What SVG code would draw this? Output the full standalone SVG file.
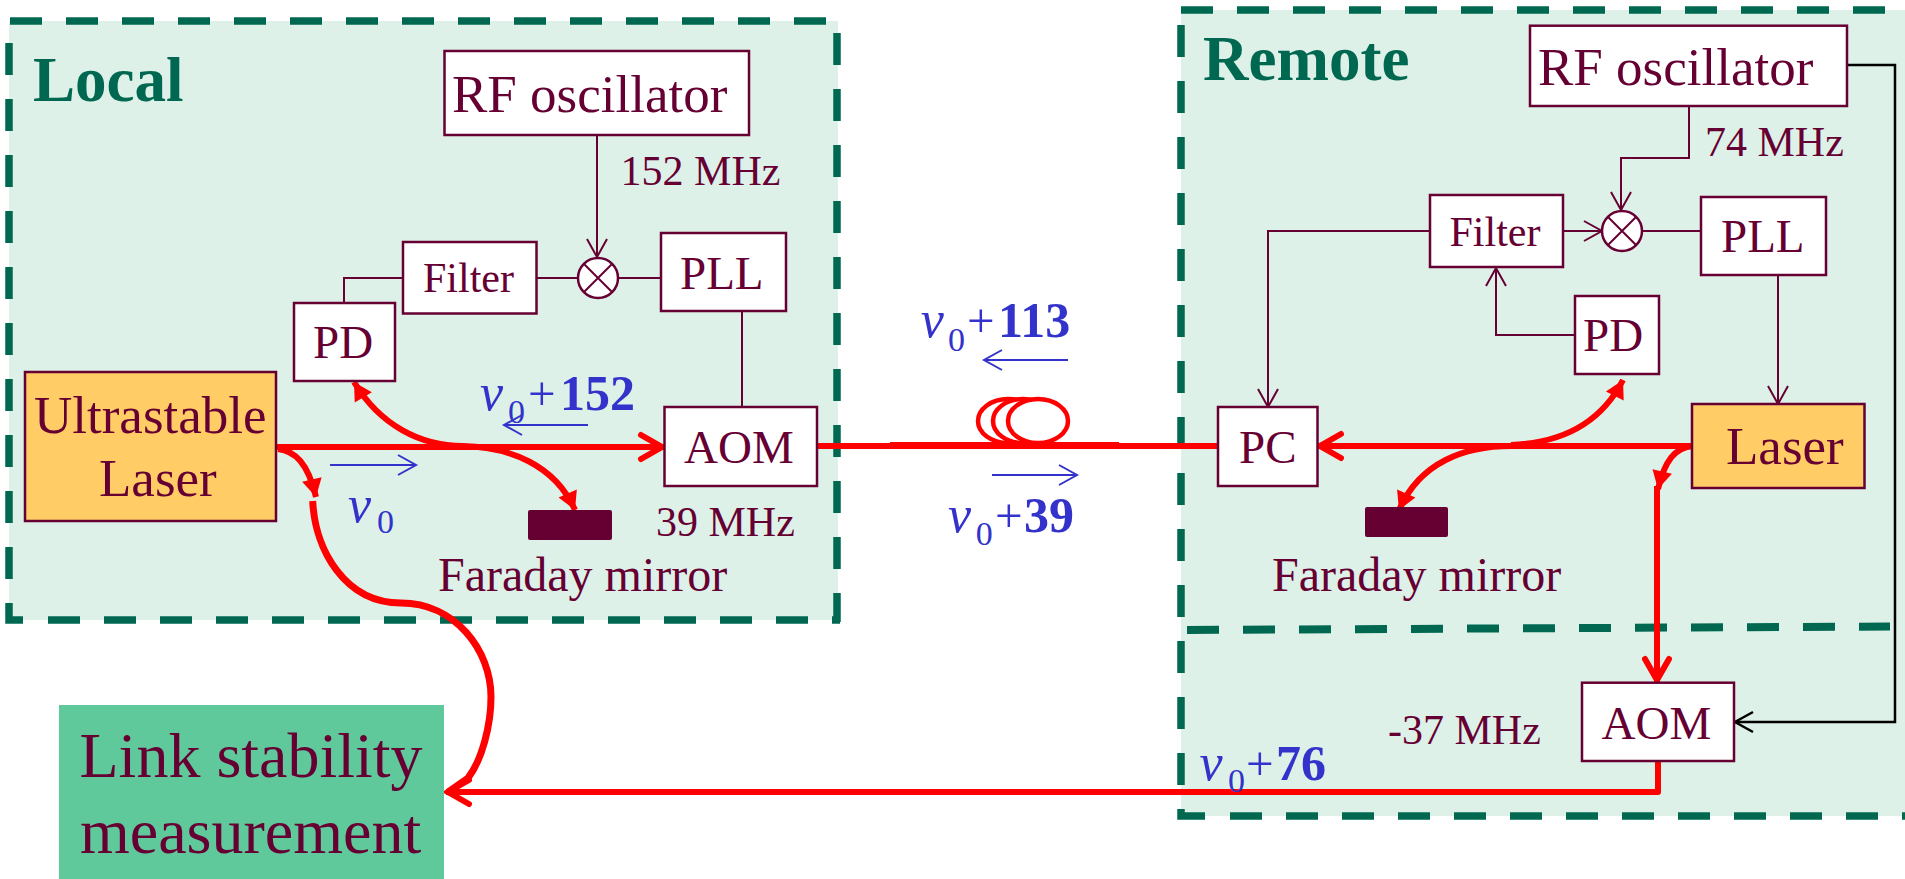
<svg xmlns="http://www.w3.org/2000/svg" width="1905" height="879" viewBox="0 0 1905 879">
<style>
text{font-family:"Liberation Serif","Times New Roman",serif;fill:#660033}
.panel{fill:#ddf1e8}
.dash{fill:none;stroke:#006850;stroke-width:7.5;stroke-dasharray:32 24}
.solid{fill:none;stroke:#006850;stroke-width:7.5}
.box{fill:#fff;stroke:#660033;stroke-width:2.5}
.laser{fill:#ffcc66;stroke:#660033;stroke-width:2.5}
.wire{fill:none;stroke:#660033;stroke-width:2}
.wa{marker-end:url(#ow)}
.blk{fill:none;stroke:#000;stroke-width:2.5;marker-end:url(#ok)}
.blu{fill:none;stroke:#3333cc;stroke-width:2;marker-end:url(#ob)}
.red{fill:none;stroke:#f00;stroke-width:6}
.ro{marker-end:url(#or)}
.rf{marker-end:url(#fr)}
.mirror{fill:#660033}
.title{font-size:63px;font-weight:bold;fill:#006850}
.t53{font-size:53px}.t47{font-size:47px}.t42{font-size:42px}.t48{font-size:48px}.t64{font-size:64px}
.nu{font-size:52px;font-style:italic;fill:#3333cc}
.sub{font-size:34px;fill:#3333cc}
.plus{font-size:49px;fill:#3333cc}
.num{font-size:50px;font-weight:bold;fill:#3333cc}
</style>
<defs>
<marker id="ow" markerUnits="userSpaceOnUse" markerWidth="24" markerHeight="28" refX="20" refY="12" orient="auto" overflow="visible"><path d="M2,2L20,12L2,22" fill="none" stroke="#660033" stroke-width="2"/></marker>
<marker id="ok" markerUnits="userSpaceOnUse" markerWidth="24" markerHeight="28" refX="20" refY="12" orient="auto" overflow="visible"><path d="M2,2L20,12L2,22" fill="none" stroke="#000" stroke-width="2.5"/></marker>
<marker id="ob" markerUnits="userSpaceOnUse" markerWidth="24" markerHeight="28" refX="20" refY="12" orient="auto" overflow="visible"><path d="M2,2L20,12L2,22" fill="none" stroke="#3333cc" stroke-width="2"/></marker>
<marker id="or" markerUnits="userSpaceOnUse" markerWidth="34" markerHeight="34" refX="26" refY="14" orient="auto" overflow="visible"><path d="M3,2L24,14L3,26" fill="none" stroke="#f00" stroke-width="6" stroke-linecap="round"/></marker>
<marker id="fr" markerUnits="userSpaceOnUse" markerWidth="24" markerHeight="24" refX="18" refY="10" orient="auto" overflow="visible"><path d="M0,0L18,10L0,20Z" fill="#f00"/></marker>
</defs>

<g id="local-panel">
<rect class="panel" x="9" y="21" width="829" height="599"/>
<path class="dash" d="M10,21H835"/>
<path class="dash" d="M9,43V602"/>
<path class="solid" d="M9,603V620H23"/>
<path class="dash" d="M48,620H840"/>
<path class="dash" d="M837,33V622"/>
<text class="title" x="33" y="101">Local</text>
</g>
<g id="remote-panel">
<rect class="panel" x="1181" y="10" width="724" height="806"/>
<path class="dash" d="M1181,10H1905"/>
<path class="dash" d="M1181,25V808"/>
<path class="solid" d="M1181,809V816H1205"/>
<path class="dash" d="M1230,816H1905"/>
<path class="dash" d="M1187,630L1890,626.5" style="stroke-width:8"/>
<text class="title" x="1203" y="80">Remote</text>
</g>

<g id="connectors">
<path class="wire" d="M597,135V278"/>
<path class="wire wa" d="M597,135V257"/>
<path class="wire" d="M536,278H661"/>
<path class="wire" d="M403,278H344V303"/>
<path class="wire" d="M742,311V407"/>
<path class="wire" d="M1642,231H1701"/>
<path class="wire wa" d="M1689,106V158H1621V210"/>
<path class="wire wa" d="M1563,231H1602"/>
<path class="wire wa" d="M1430,231H1268V407"/>
<path class="wire wa" d="M1575,335H1496V268"/>
<path class="wire wa" d="M1778,275V404"/>
<path class="blk" d="M1847,65H1895V722H1735"/>
<path class="blu" d="M588,425H504"/>
<path class="blu" d="M330,465H416"/>
<path class="blu" d="M1068,360H984"/>
<path class="blu" d="M992,475H1077"/>
<ellipse cx="1008" cy="421" rx="30" ry="22" fill="#fff" stroke="#f00" stroke-width="4.5"/>
<ellipse cx="1023" cy="421" rx="30" ry="22" fill="#fff" stroke="#f00" stroke-width="4.5"/>
<ellipse cx="1038" cy="421" rx="30" ry="22" fill="#fff" stroke="#f00" stroke-width="4.5"/>
<path class="red" d="M817,446H1218"/>
<path class="red" d="M890,444H1119" style="stroke-width:4"/>
<path class="red ro" d="M276,447H664"/>
<path class="red rf" d="M463,446C420,446 380,425 354,382"/>
<path class="red rf" d="M463,446C510,447 555,465 575,510"/>
<path class="red rf" d="M278,449C295,451 308,463 316,497"/>
<path class="red" d="M312.7,501C315,550 345,603 401,603C455,603 491,650 491,697C491,725 482,760 468,778L448,792" style="stroke-width:7"/>
<path class="red ro" d="M1658,761V792H446" style="stroke-linejoin:round"/>
<path class="red ro" d="M1692,446H1318"/>
<path class="red rf" d="M1511,445C1560,443 1600,425 1623,380"/>
<path class="red rf" d="M1511,446C1465,446 1420,462 1399,510"/>
<path class="red rf" d="M1692,446C1675,448 1665,460 1658,489"/>
<path class="red ro" d="M1657,486V682"/>
</g>

<g id="local-rf"><rect class="box" x="444.5" y="51" width="304.5" height="84"/><text class="t53" x="452" y="112">RF oscillator</text></g>
<g id="local-freq"><text class="t42" x="620.6" y="184.5">152 MHz</text></g>
<g id="local-mixer"><circle class="box" cx="598" cy="278" r="20"/><path class="wire" d="M584,264L612,292M612,264L584,292"/></g>
<g id="local-filter"><rect class="box" x="403" y="242" width="133.5" height="71.5"/><text class="t42" x="423" y="292">Filter</text></g>
<g id="local-pll"><rect class="box" x="661" y="233" width="125" height="78"/><text class="t47" x="680" y="288.5">PLL</text></g>
<g id="local-pd"><rect class="box" x="294" y="303" width="101" height="78"/><text class="t47" x="313" y="358">PD</text></g>
<g id="local-laser"><rect class="laser" x="25" y="372" width="251" height="149"/><text class="t53" x="34" y="432.5">Ultrastable</text><text class="t53" x="99" y="496">Laser</text></g>
<g id="local-aom"><rect class="box" x="664.5" y="407" width="152.5" height="79"/><text class="t47" x="684" y="463">AOM</text></g>
<g id="local-mirror"><rect class="mirror" x="528" y="510" width="84" height="30" rx="2"/><text class="t48" x="438" y="591">Faraday mirror</text></g>
<g id="local-aom-freq"><text class="t42" x="656" y="536">39 MHz</text></g>

<g id="remote-rf"><rect class="box" x="1530" y="25.7" width="317" height="80.3"/><text class="t53" x="1538" y="84.5">RF oscillator</text></g>
<g id="remote-freq"><text class="t42" x="1705" y="156">74 MHz</text></g>
<g id="remote-mixer"><circle class="box" cx="1622" cy="231" r="20"/><path class="wire" d="M1608,217L1636,245M1636,217L1608,245"/></g>
<g id="remote-filter"><rect class="box" x="1430" y="195" width="133" height="72"/><text class="t42" x="1449.5" y="245.7">Filter</text></g>
<g id="remote-pll"><rect class="box" x="1701" y="197" width="125" height="78"/><text class="t47" x="1721" y="252">PLL</text></g>
<g id="remote-pd"><rect class="box" x="1575" y="296" width="84" height="78"/><text class="t47" x="1583" y="351">PD</text></g>
<g id="remote-pc"><rect class="box" x="1218" y="407" width="99.500" height="79"/><text class="t47" x="1239" y="463">PC</text></g>
<g id="remote-laser"><rect class="laser" x="1692" y="404" width="172.500" height="84"/><text class="t53" x="1726" y="464">Laser</text></g>
<g id="remote-mirror"><rect class="mirror" x="1365" y="507" width="83" height="30" rx="2"/><text class="t48" x="1272" y="591">Faraday mirror</text></g>
<g id="remote-aom"><rect class="box" x="1582" y="682.700" width="152" height="78.300"/><text class="t47" x="1601.6" y="739">AOM</text></g>
<g id="remote-aom-freq"><text class="t42" x="1388" y="744">-37 MHz</text></g>

<g id="measurement"><rect x="59" y="705" width="385" height="174" fill="#60c99c"/><text class="t64" x="79.500" y="776.700">Link stability</text><text class="t64" x="80" y="853">measurement</text></g>

<g id="labels">
<text x="480" y="410"><tspan class="nu">ν</tspan><tspan class="sub" x="508" y="422.700">0</tspan><tspan class="plus" x="528" y="410">+</tspan><tspan class="num" x="560" y="410">152</tspan></text>
<text x="348" y="522"><tspan class="nu">ν</tspan><tspan class="sub" x="377" y="533">0</tspan></text>
<text x="920.700" y="337"><tspan class="nu">ν</tspan><tspan class="sub" x="948" y="350.700">0</tspan><tspan class="plus" x="967" y="337">+</tspan><tspan class="num" x="998" y="337">113</tspan></text>
<text x="948" y="531.700"><tspan class="nu">ν</tspan><tspan class="sub" x="975.700" y="545">0</tspan><tspan class="plus" x="995" y="531.700">+</tspan><tspan class="num" x="1024" y="531.700">39</tspan></text>
<text x="1199.600" y="780"><tspan class="nu">ν</tspan><tspan class="sub" x="1228" y="791.700">0</tspan><tspan class="plus" x="1246" y="780">+</tspan><tspan class="num" x="1276" y="780">76</tspan></text>
</g>
</svg>
